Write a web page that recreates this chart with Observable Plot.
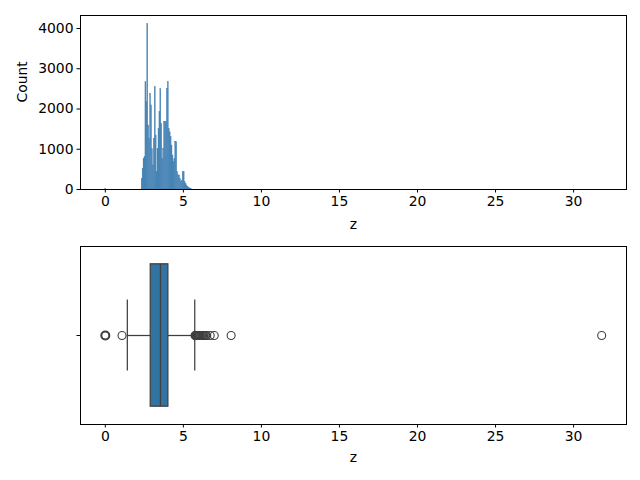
<!DOCTYPE html>
<html><head><meta charset="utf-8">
<script src="https://cdn.jsdelivr.net/npm/d3@7"></script>
<script src="https://cdn.jsdelivr.net/npm/@observablehq/plot@0.6"></script>
<style>body{margin:0;background:#fff;} svg{display:block;} #chart{width:640px;height:480px;}</style>
</head><body><div id="chart"></div>
<script>
// ---- data ----
const zMin = 0, zMax = 31.8, binCount = 532;           // histogram range & number of bins
const zeroBin = 0, zeroBinCount = 20;                    // diamonds with z = 0
const firstBin = 39;                                     // index of first populated bin
const histCounts = [265,513,760,800,2665,2170,4117,1590,1260,2375,2090,1000,600,1260,2540,1340,430,1010,1500,1920,2500,1630,760,1010,1670,1670,1670,2500,2665,1500,1420,1300,1090,845,680,760,1175,1175,430,350,350,265,180,220,430,430,180,140,100,60,50,33,16,8];
const boxQuartiles = [2.91, 3.53, 4.04];                 // q1, median, q3
const whiskerEnds = [1.41, 5.73];
const outliers = [0, 1.07, 5.75, 5.78, 5.8, 5.83, 5.86, 5.9, 5.93, 5.97, 6.0, 6.03, 6.08, 6.13, 6.17, 6.24, 6.3, 6.38, 6.43, 6.5, 6.72, 6.98, 8.06, 31.8];
const xTicks = [0, 5, 10, 15, 20, 25, 30];
const countTicks = [0, 1000, 2000, 3000, 4000];

// ---- derived tables ----
const bw = (zMax - zMin) / binCount;
const bins = [{i: zeroBin, count: zeroBinCount}, ...histCounts.map((c, k) => ({i: firstBin + k, count: c}))]
  .map(d => ({x1: zMin + d.i * bw, x2: zMin + (d.i + 1) * bw, count: d.count}));
const pad = (zMax - zMin) * 0.05;
const xDomain = [zMin - pad, zMax + pad];
const yMax = Math.max(...bins.map(d => d.count)) * 1.05;

const baseStyle = {fontFamily: "DejaVu Sans", fontSize: "13.9px", color: "black", background: "white", overflow: "visible"};
const lineCol = "#3f3f3f";
const plain = d => String(d);

const histChart = Plot.plot({
  width: 640, height: 240, marginTop: 15, marginBottom: 51, marginLeft: 80, marginRight: 14,
  style: baseStyle,
  x: {domain: xDomain},
  y: {domain: [0, yMax]},
  marks: [
    Plot.rectY(bins, {x1: "x1", x2: "x2", y: "count", fill: "#4381b3", stroke: "#4381b3", strokeWidth: 0.4, insetLeft: 0, insetRight: 0}),
    Plot.axisX({ticks: xTicks, tickFormat: plain, tickSize: 3.5, tickPadding: 3.5, label: null}),
    Plot.axisY({ticks: countTicks, tickFormat: plain, tickSize: 3.5, tickPadding: 3.5, label: null}),
    Plot.frame({stroke: "black", strokeWidth: 1}),
    Plot.text(["z"], {frameAnchor: "bottom", text: d => d, dy: 35, lineAnchor: "middle"}),
    Plot.text(["Count"], {frameAnchor: "left", text: d => d, dx: -58, rotate: -90, lineAnchor: "middle"})
  ]
});

const [q1, med, q3] = boxQuartiles;
const boxChart = Plot.plot({
  width: 640, height: 240, marginTop: 6, marginBottom: 56, marginLeft: 80, marginRight: 14,
  style: baseStyle,
  x: {domain: xDomain},
  y: {domain: [-0.5, 0.5]},
  marks: [
    Plot.ruleY([{a: whiskerEnds[0], b: q1}, {a: q3, b: whiskerEnds[1]}], {x1: "a", x2: "b", y: 0, stroke: lineCol, strokeWidth: 1.25}),
    Plot.ruleX(whiskerEnds, {x: d => d, y1: -0.2, y2: 0.2, stroke: lineCol, strokeWidth: 1.25}),
    Plot.rect([{q1, q3}], {x1: "q1", x2: "q3", y1: -0.4, y2: 0.4, fill: "#3274a1", stroke: lineCol, strokeWidth: 1.25}),
    Plot.ruleX([med], {x: d => d, y1: -0.4, y2: 0.4, stroke: lineCol, strokeWidth: 1.25}),
    Plot.dot(outliers, {x: d => d, y: 0, r: 4, stroke: lineCol, fill: "none", strokeWidth: 1.1}),
    Plot.dot([outliers[0]], {x: d => d, y: 0, r: 4, stroke: lineCol, fill: "none", strokeWidth: 2}),
    Plot.axisX({ticks: xTicks, tickFormat: plain, tickSize: 3.5, tickPadding: 3.5, label: null}),
    Plot.axisY({ticks: [0], tickFormat: () => "", tickSize: 3.5, label: null}),
    Plot.frame({stroke: "black", strokeWidth: 1}),
    Plot.text(["z"], {frameAnchor: "bottom", text: d => d, dy: 33, lineAnchor: "middle"})
  ]
});

document.getElementById("chart").append(histChart, boxChart);
</script>
</body></html>
